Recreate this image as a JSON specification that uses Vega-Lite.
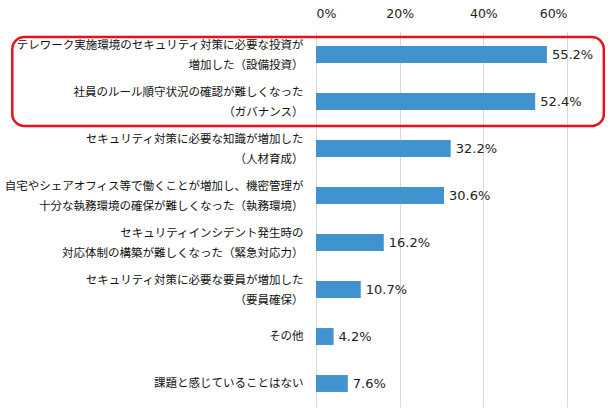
{
  "$schema": "https://vega.github.io/schema/vega-lite/v6.json",
  "autosize": "none",
  "padding": {"left": 316, "top": 31, "right": 43, "bottom": 1},
  "width": 251,
  "height": 376,
  "background": "#ffffff",
  "config": {"view": {"stroke": null}},
  "datasets": {
    "bars": [
      {"item": "テレワーク実施環境のセキュリティ対策に必要な投資が|増加した（設備投資）", "value": 0.552},
      {"item": "社員のルール順守状況の確認が難しくなった|（ガバナンス）", "value": 0.524},
      {"item": "セキュリティ対策に必要な知識が増加した|（人材育成）", "value": 0.322},
      {"item": "自宅やシェアオフィス等で働くことが増加し、機密管理が|十分な執務環境の確保が難しくなった（執務環境）", "value": 0.306},
      {"item": "セキュリティインシデント発生時の|対応体制の構築が難しくなった（緊急対応力）", "value": 0.162},
      {"item": "セキュリティ対策に必要な要員が増加した|（要員確保）", "value": 0.107},
      {"item": "その他", "value": 0.042},
      {"item": "課題と感じていることはない", "value": 0.076}
    ],
    "box": [
      {"from": "テレワーク実施環境のセキュリティ対策に必要な投資が|増加した（設備投資）", "to": "社員のルール順守状況の確認が難しくなった|（ガバナンス）", "left": -0.726, "right": 0.688}
    ]
  },
  "layer": [
    {
      "data": {"name": "bars"},
      "mark": {"type": "bar", "color": "#4193cf"},
      "encoding": {
        "y": {
          "field": "item", "type": "nominal", "sort": null,
          "scale": {"paddingInner": 0.64, "paddingOuter": 0.32},
          "axis": {
            "title": null, "ticks": false, "domain": false, "labelPadding": 13,
            "labelExpr": "split(datum.label, '|')",
            "labelOffset": {"condition": {"test": "indexof(datum.label, '|') >= 0", "value": -9}, "value": 0},
            "labelFont": "Noto Sans CJK JP", "labelFontSize": 11.5, "labelColor": "#111111",
            "labelLineHeight": 20, "labelLimit": 320
          }
        },
        "x": {
          "field": "value", "type": "quantitative",
          "scale": {"domain": [0, 0.6], "nice": false, "zero": true},
          "axis": {
            "orient": "top", "title": null, "format": ".0%", "values": [0, 0.2, 0.4, 0.6],
            "ticks": false, "domain": false, "labelPadding": 11,
            "labelFont": "DejaVu Sans", "labelFontSize": 12.5, "labelColor": "#222222",
            "grid": true, "gridColor": "#d9d9d9", "gridWidth": 1
          }
        }
      }
    },
    {
      "data": {"name": "bars"},
      "mark": {"type": "text", "align": "left", "baseline": "middle", "dx": 5, "font": "DejaVu Sans", "fontSize": 13, "color": "#222222"},
      "encoding": {
        "y": {"field": "item", "type": "nominal", "sort": null},
        "x": {"field": "value", "type": "quantitative"},
        "text": {"field": "value", "type": "quantitative", "format": ".1%"}
      }
    },
    {
      "data": {"name": "box"},
      "mark": {"type": "rect", "fill": null, "fillOpacity": 0, "stroke": "#e8101c", "strokeWidth": 2.5, "cornerRadius": 12, "yOffset": -9, "y2Offset": 16},
      "encoding": {
        "y": {"field": "from", "type": "nominal", "sort": null, "bandPosition": 0},
        "y2": {"field": "to", "bandPosition": 1},
        "x": {"field": "left", "type": "quantitative"},
        "x2": {"field": "right"}
      }
    }
  ]
}
